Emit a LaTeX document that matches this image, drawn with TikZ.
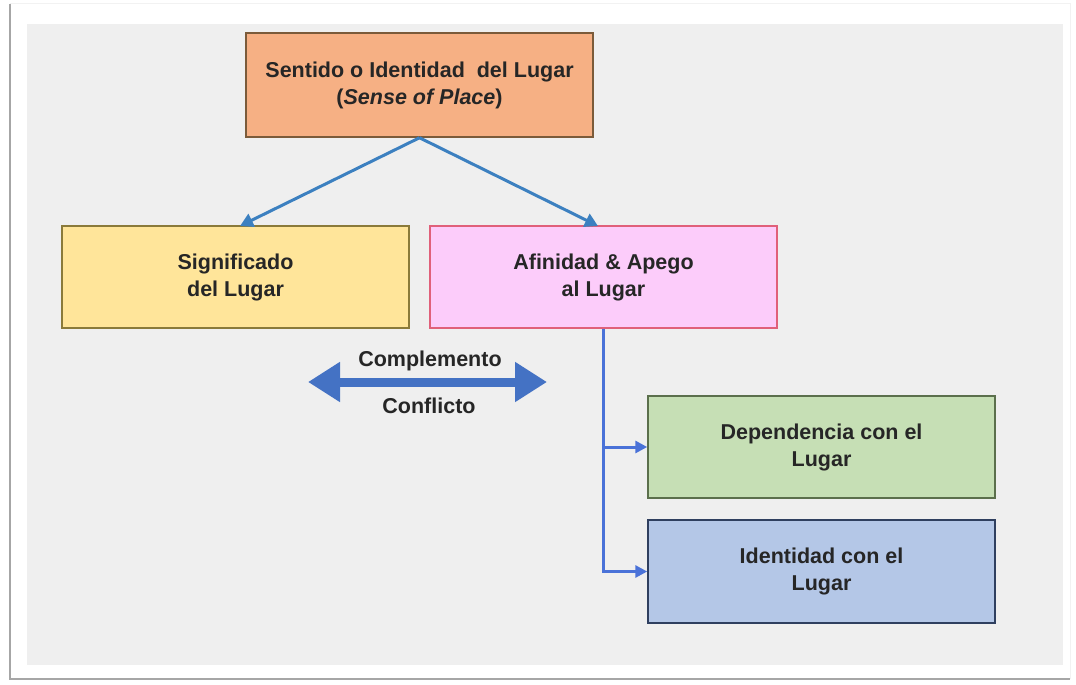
\documentclass[tikz,border=0pt]{standalone}
\usepackage{fontspec}
\setmainfont{Liberation Sans}
\usetikzlibrary{arrows.meta}

\definecolor{panelgray}{HTML}{EFEFEF}
\definecolor{orangefill}{HTML}{F6B084}
\definecolor{orangeline}{HTML}{7B5B3A}
\definecolor{yellowfill}{HTML}{FFE59A}
\definecolor{yellowline}{HTML}{8A7A3A}
\definecolor{pinkfill}{HTML}{FCCCFA}
\definecolor{pinkline}{HTML}{E0607A}
\definecolor{greenfill}{HTML}{C6DFB5}
\definecolor{greenline}{HTML}{5B6F4C}
\definecolor{bluefill}{HTML}{B4C7E7}
\definecolor{blueline}{HTML}{2F3F5F}
\definecolor{topblue}{HTML}{3C80C0}
\definecolor{sideblue}{HTML}{4A72D8}
\definecolor{dblblue}{HTML}{4472C4}

\begin{document}
\begin{tikzpicture}[x=1pt,y=-1pt]
        \tikzstyle{every node}=[font=\fontsize{21.5}{27}\selectfont\bfseries, text=black!85, align=center]
        \tikzstyle{box}=[rectangle, draw, line width=1.5pt, minimum width=347pt, minimum height=102pt]
        \tikzstyle{toplink}=[draw=topblue, line width=3pt, -{Triangle[length=13pt,width=14pt]}]
        \tikzstyle{sidelink}=[draw=sideblue, line width=3pt, -{Triangle[length=12pt,width=12pt]}]
        \tikzstyle{dbllink}=[draw=dblblue, line width=9pt, {Triangle[length=32pt,width=38pt]}-{Triangle[length=32pt,width=38pt]}]

        % frame and panel
        \fill[white] (0,0) rectangle (1076,685);
        \draw[gray!10, line width=1pt] (10,4) -- (1070,4) -- (1070,679);
        \draw[gray!70, line width=1.5pt] (10,4) -- (10,679) -- (1070,679);
        \fill[panelgray] (27,24) rectangle (1063,665);

        \node[box, fill=orangefill, draw=orangeline, minimum height=104pt] (sent) at (419.5,85) {Sentido o Identidad~ del Lugar\\(\textit{Sense of Place})};
        \node[box, fill=yellowfill, draw=yellowline] (sig) at (235.5,277) {Significado\\del Lugar};
        \node[box, fill=pinkfill, draw=pinkline] (afi) at (603.5,277) {Afinidad \& Apego\\al Lugar};
        \node[box, fill=greenfill, draw=greenline] (dep) at (821.5,447) {Dependencia con el\\Lugar};
        \node[box, fill=bluefill, draw=blueline, minimum height=103pt] (ide) at (821.5,571.5) {Identidad con el\\Lugar};

        \draw[toplink] (sent.south) -- (240,226);
        \draw[toplink] (sent.south) -- (598,226);

        \draw[sidelink] (afi.south) |- (dep.west);
        \draw[sidelink] (afi.south) |- (ide.west);

        \coordinate (cl) at (308,382);
        \coordinate (cr) at (547,382);
        \draw[dbllink] (cl) -- (cr);
        \node (comp) at (430,361) {Complemento};
        \node (conf) at (429,406) {Conflicto};
    \end{tikzpicture}
\end{document}
